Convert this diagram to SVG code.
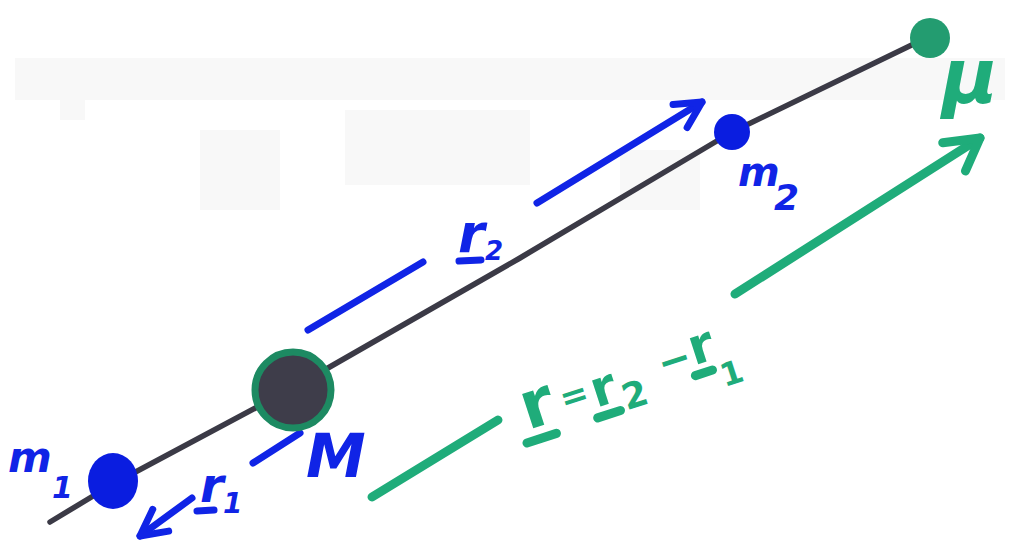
<svg xmlns="http://www.w3.org/2000/svg" width="1021" height="541" viewBox="0 0 1021 541">
<style>
.rod{fill:none;stroke:#3b3a46;stroke-width:5.5;stroke-linecap:round;stroke-linejoin:round}
.b{fill:none;stroke:#1024e6;stroke-width:7;stroke-linecap:round;stroke-linejoin:round}
.g{fill:none;stroke:#1fac7a;stroke-width:9;stroke-linecap:round;stroke-linejoin:round}
.tb{fill:#1024e6;font-family:"DejaVu Sans",sans-serif;font-style:italic;font-weight:bold}
.tg{fill:#1fac7a;font-family:"DejaVu Sans",sans-serif;font-weight:bold}
.smudge{fill:#ececec;opacity:0.35}
</style>
<defs>
<marker id="ahB" markerUnits="userSpaceOnUse" markerWidth="60" markerHeight="60" refX="0" refY="0" viewBox="-40 -30 60 60" orient="auto" overflow="visible">
<path d="M-26,-13 L0,0 L-26,14" fill="none" stroke="#1024e6" stroke-width="7" stroke-linecap="round" stroke-linejoin="round"/>
</marker>
<marker id="ahG" markerUnits="userSpaceOnUse" markerWidth="70" markerHeight="70" refX="0" refY="0" viewBox="-45 -35 70 70" orient="auto" overflow="visible">
<path d="M-34,-16 L0,0 L-30,20" fill="none" stroke="#1fac7a" stroke-width="9" stroke-linecap="round" stroke-linejoin="round"/>
</marker>
</defs>
<rect width="1021" height="541" fill="#ffffff"/>
<g id="smudges">
<rect class="smudge" x="15" y="58" width="990" height="42"/>
<rect class="smudge" x="60" y="100" width="25" height="20"/>
<rect class="smudge" x="200" y="130" width="80" height="80"/>
<rect class="smudge" x="345" y="110" width="185" height="75"/>
<rect class="smudge" x="620" y="150" width="80" height="60"/>
</g>
<g id="connectors">
<polyline id="rod" class="rod" points="50,522 113,484 293,388 520,258 732,132 922,40"/>
<line class="b" x1="308" y1="330" x2="423" y2="262"/>
<line class="b" x1="537" y1="203" x2="702" y2="102" marker-end="url(#ahB)"/>
<line class="b" x1="253" y1="463" x2="300" y2="433"/>
<line class="b" x1="192" y1="498" x2="140" y2="536" marker-end="url(#ahB)"/>
<line class="g" x1="372" y1="497" x2="498" y2="420"/>
<line class="g" x1="735" y1="294" x2="980" y2="138" marker-end="url(#ahG)"/>
</g>
<g id="m1">
<ellipse cx="113" cy="481" rx="25" ry="28" fill="#0a1de0"/>
<text class="tb" x="8" y="472" font-size="42">m</text>
<text class="tb" x="52" y="498" font-size="30">1</text>
</g>
<g id="M">
<circle cx="293" cy="390" r="38" fill="#3e3d4a" stroke="#1d8a62" stroke-width="7"/>
<text class="tb" x="306" y="477" font-size="60">M</text>
</g>
<g id="m2">
<circle cx="732" cy="132" r="18" fill="#0a1de0"/>
<text class="tb" x="738" y="186" font-size="40">m</text>
<text class="tb" x="774" y="210" font-size="36">2</text>
</g>
<g id="mu">
<circle cx="930" cy="38" r="20" fill="#239c70"/>
<text class="tg" x="942" y="103" font-size="76" font-style="italic">μ</text>
</g>
<g id="label-r2">
<text class="tb" x="458" y="252" font-size="54" font-style="normal">r</text>
<line class="b" x1="459" y1="261" x2="481" y2="260"/>
<text class="tb" x="485" y="260" font-size="26" font-style="normal">2</text>
</g>
<g id="label-r1">
<text class="tb" x="200" y="502" font-size="48" font-style="normal">r</text>
<line class="b" x1="197" y1="511" x2="214" y2="510"/>
<text class="tb" x="223" y="513" font-size="28" font-style="normal">1</text>
</g>
<g id="label-r" transform="translate(528,430) rotate(-18)">
<text class="tg" x="0" y="0" font-size="66">r</text>
<line class="g" x1="-5" y1="12" x2="26" y2="12"/>
<text class="tg" x="40" y="-7" font-size="34">=</text>
<text class="tg" x="72" y="0" font-size="50">r</text>
<line class="g" x1="70" y1="10" x2="94" y2="10"/>
<text class="tg" x="100" y="12" font-size="36">2</text>
<text class="tg" x="144" y="-8" font-size="40">−</text>
<text class="tg" x="178" y="-10" font-size="50">r</text>
<line class="g" x1="176" y1="0" x2="194" y2="0"/>
<text class="tg" x="200" y="20" font-size="32">1</text>
</g>
</svg>
